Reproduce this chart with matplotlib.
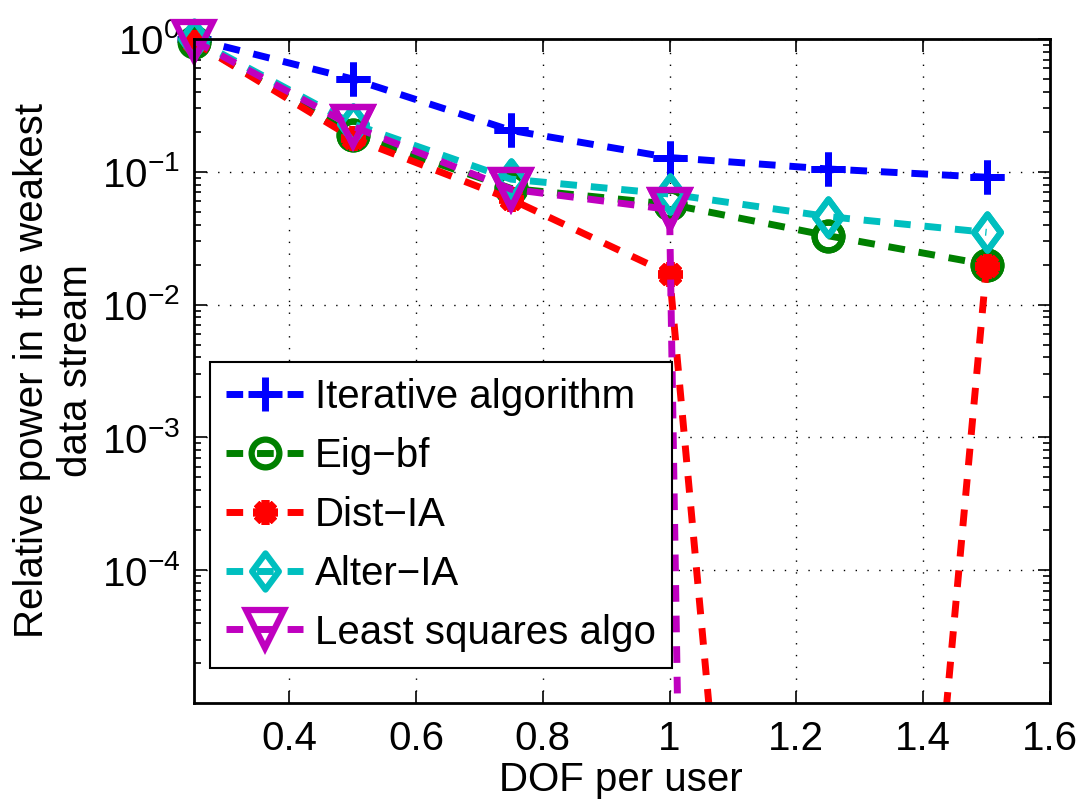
import matplotlib
matplotlib.use("Agg")
import matplotlib.pyplot as plt
import numpy as np
from matplotlib.path import Path
from matplotlib.ticker import LogLocator, NullFormatter, FixedLocator

plt.rcParams['font.family'] = ['Liberation Sans', 'DejaVu Sans']
plt.rcParams['mathtext.fontset'] = 'custom'
plt.rcParams['mathtext.rm'] = 'Liberation Sans'
plt.rcParams['mathtext.it'] = 'Liberation Sans:italic'

# data
dof = [0.25, 0.5, 0.75, 1.0, 1.25, 1.5]
iterative = [1.0, 0.50, 0.205, 0.128, 0.105, 0.091]
eig_bf = [0.95, 0.19, 0.075, 0.057, 0.033, 0.020]
dist_ia = [0.95, 0.18, 0.062, 0.017, 1.5e-15, 0.0195]
alter_ia = [1.0, 0.23, 0.088, 0.068, 0.046, 0.035]
least_sq = [0.97, 0.22, 0.074, 0.052, 1e-75, 1e-75]

labels = ['Iterative algorithm', 'Eig\u2212bf', 'Dist\u2212IA', 'Alter\u2212IA', 'Least squares algo']
xticks = [0.4, 0.6, 0.8, 1.0, 1.2, 1.4, 1.6]
xticklabels = ['0.4', '0.6', '0.8', '1', '1.2', '1.4', '1.6']
yticks = [1e-4, 1e-3, 1e-2, 1e-1, 1e0]

diamond = Path([(0, 1), (0.74, 0), (0, -1), (-0.74, 0), (0, 1)],
               [Path.MOVETO, Path.LINETO, Path.LINETO, Path.LINETO, Path.CLOSEPOLY])

styles = [
    dict(color=(0, 0, 1), marker='+', ms=24, mew=5),
    dict(color=(0, 0.5, 0), marker='o', ms=20, mew=4.5, mfc='none'),
    dict(color=(1, 0, 0), marker=(8, 2, 0), ms=18, mew=5.5),
    dict(color=(0, 0.75, 0.75), marker=diamond, ms=26, mew=4.5, mfc='none'),
    dict(color=(0.75, 0, 0.75), marker='v', ms=27, mew=4.5, mfc='none'),
]
series = [iterative, eig_bf, dist_ia, alter_ia, least_sq]

fig = plt.figure(figsize=(10.85, 7.99), dpi=100)
ax = fig.add_axes([0.1788, 0.1202, 0.7889, 0.8310])

ymin, ymax = 1e-5, 1.0
handles = []
for vals, st, lab in zip(series, styles, labels):
    h, = ax.plot(dof, vals, linestyle='--', lw=5, dashes=(2.4, 2.0), label=lab, **st)
    handles.append(h)
    # markers are not clipped at the axes edge
    x = [a for a, b in zip(dof, vals) if b >= ymin]
    y = [b for b in vals if b >= ymin]
    ax.plot(x, y, linestyle='none', clip_on=False, **st)

ax.set_yscale('log')
ax.set_xlim(0.25, 1.6)
ax.set_ylim(ymin, ymax)
ax.xaxis.set_major_locator(FixedLocator(xticks))
ax.set_xticklabels(xticklabels)
ax.yaxis.set_major_locator(FixedLocator(yticks))
ax.yaxis.set_minor_locator(LogLocator(base=10, subs=np.arange(2, 10), numticks=20))
ax.yaxis.set_minor_formatter(NullFormatter())

ax.tick_params(which='both', direction='in', top=True, right=True, labelsize=29, width=1.2)
ax.tick_params(which='major', length=9)
ax.tick_params(which='minor', length=5)
ax.tick_params(axis='x', pad=12)
ax.tick_params(axis='y', pad=10)
ax.grid(True, which='major', linestyle=(0, (1, 7.5)), color='black', lw=1)
for sp in ax.spines.values():
    sp.set_linewidth(2)

ax.set_xlabel('DOF per user', fontsize=29)
ax.xaxis.set_label_coords(0.499, -0.088)
ax.set_ylabel('Relative power in the weakest\ndata stream', fontsize=29, va='center')
ax.yaxis.set_label_coords(-0.164, 0.5)

leg = ax.legend(handles=handles, loc='upper left', bbox_to_anchor=(0.019, 0.514),
                borderaxespad=0, fontsize=29, handlelength=1.9, handletextpad=0.3,
                labelspacing=0.52, borderpad=0.4, fancybox=False, framealpha=1,
                edgecolor='black')
leg.get_frame().set_linewidth(1.5)

fig.savefig('out.png', dpi=100)
